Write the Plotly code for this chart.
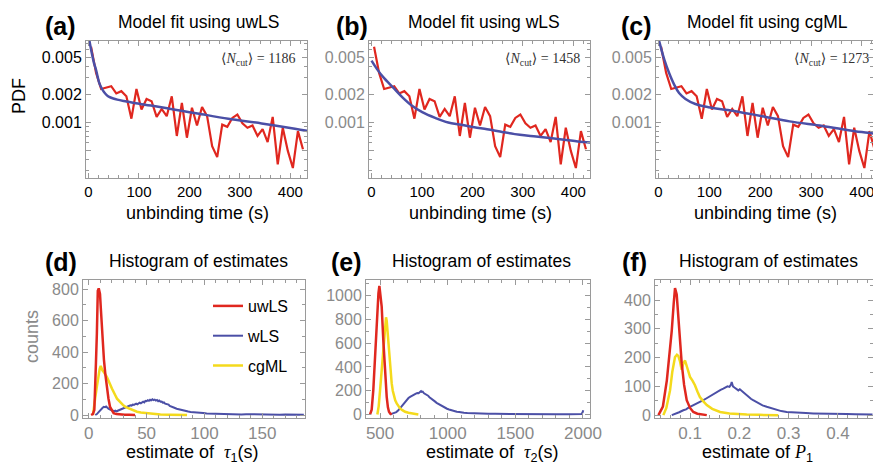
import plotly.graph_objects as go

W, H = 873, 465
RED = '#E0271F'
BLUE = '#4B4FA6'
YEL = '#F4DA1C'
AX = '#9a9a9a'
TXTGRAY = '#8a8a8a'
SANS = 'Liberation Sans, Arial, sans-serif'
SERIF = 'Liberation Serif, DejaVu Serif, serif'

# ---------------- data: top row (binned unbinding-time PDF) ----------------
t_bins = [5, 15, 25, 35, 45, 55, 65, 75, 85, 95, 105, 115, 125, 135, 145, 155, 165, 175,
          185, 195, 205, 215, 225, 235, 245, 255, 265, 275, 285, 295, 305, 315, 325, 335,
          345, 355, 365, 375, 385, 395, 405, 415, 425]
pdf_emp = [0.0065, 0.0034, 0.00228, 0.00234, 0.00244, 0.00204, 0.00216, 0.00190, 0.00109,
           0.00228, 0.00137, 0.00178, 0.00168, 0.00114, 0.00139, 0.00116, 0.00190, 0.00071,
           0.00161, 0.00068, 0.00143, 0.00092, 0.00146, 0.00116, 0.00055, 0.00042, 0.00094,
           0.00089, 0.00111, 0.00121, 0.00097, 0.00087, 0.00092, 0.00071, 0.00084, 0.00061,
           0.00114, 0.00035, 0.00087, 0.00049, 0.00032, 0.00080, 0.00051]

fit_uwls_t = [0, 1.4, 4, 7.9, 11, 14.7, 18, 21.2, 26, 31, 36, 41, 49, 57, 70, 90.5, 123.6,
              156, 189.5, 216, 277, 343, 409, 436]
fit_uwls_p = [0.0089, 0.0078, 0.0065, 0.0051, 0.0043, 0.0037, 0.0031, 0.00265, 0.00232,
              0.0021, 0.00196, 0.00187, 0.0018, 0.00175, 0.00169, 0.00161, 0.00151, 0.00141,
              0.00131, 0.00124, 0.00109, 0.00097, 0.00085, 0.00080]

fit_wls_t = [0, 10.2, 23.2, 42.5, 61.8, 81, 100.5, 126, 152, 178, 203.5, 229, 261, 294, 326,
             358, 390, 421, 436]
fit_wls_p = [0.0046, 0.00378, 0.00306, 0.00237, 0.00184, 0.00149, 0.00128, 0.00111, 0.00099,
             0.00094, 0.00088, 0.00084, 0.00078, 0.00073, 0.00070, 0.00067, 0.00064, 0.00061,
             0.00060]

fit_cgml_t = [0, 2, 11.5, 21, 30.8, 40.4, 53, 72.5, 98, 136.5, 175, 204, 258, 322.5, 386.5,
              412, 436]
fit_cgml_p = [0.0080, 0.0072, 0.00469, 0.00337, 0.00254, 0.00206, 0.00178, 0.00157, 0.00145,
              0.00135, 0.00124, 0.00116, 0.00102, 0.00091, 0.00080, 0.00077, 0.00073]

ncut = ['1186', '1458', '1273']
methods = ['uwLS', 'wLS', 'cgML']

# ---------------- data: bottom row (histograms of estimates) ----------------
# (d) tau1
d_uw_x = [2, 3.5, 4.8, 5.5, 6.2, 7, 7.8, 8.6, 9.7, 10.4, 11.1, 12, 13.1, 14.3, 15.5, 17, 18.4,
          20, 21.5, 24, 27, 31, 35, 40]
d_uw_y = [0, 6, 32, 150, 333, 520, 790, 805, 770, 680, 590, 470, 352, 260, 180, 105, 51, 28,
          12, 6, 3, 1, 1, 0]
d_cg_x = [3.6, 4.5, 5.6, 7.1, 8.5, 9.4, 10.3, 11, 11.8, 12.7, 13.6, 14.6, 15.8, 17, 18.6, 20,
          21.5, 23, 24.4, 26, 27.3, 29.5, 31.6, 34, 35.9, 38.5, 41.7, 45, 50.4, 55, 62, 70,
          78, 85]
d_cg_y = [0, 40, 110, 185, 265, 292, 312, 296, 284, 276, 262, 254, 240, 214, 192, 168, 140,
          124, 104, 90, 76, 64, 52, 45, 36, 28, 21, 16, 11, 7, 4, 2, 1, 0]
d_w_x = [5.6, 7, 8.5, 10, 11, 12, 13, 14, 15, 16, 17, 18, 19, 20, 21, 22, 23, 24, 25, 26, 27,
         28, 29, 30, 31, 32, 33, 34, 35, 36, 37, 38, 39, 40, 41, 42, 43, 44, 45, 46, 47, 48,
         49, 50, 51, 52, 53, 54, 55, 56, 57, 58, 59, 60, 61, 62, 63, 64, 65, 66, 67, 68, 69,
         70, 72, 74, 76, 78, 80, 82, 84, 86, 88, 90, 93, 96, 99, 102, 105, 108, 111, 114, 117,
         120, 124, 128, 132, 136, 140, 145, 150, 155, 160, 165, 170, 175, 180, 186]
d_w_y = [0, 6, 18, 32, 40, 46, 52, 50, 54, 44, 40, 36, 33, 28, 26, 24, 28, 23, 27, 30, 33,
         36, 40, 44, 46, 52, 55, 58, 56, 62, 60, 66, 64, 70, 72, 68, 76, 78, 74, 82, 85, 80,
         90, 88, 94, 90, 97, 93, 100, 95, 98, 92, 96, 88, 92, 85, 86, 78, 80, 72, 70, 64, 66,
         58, 54, 46, 40, 36, 30, 28, 24, 22, 19, 17, 15, 12, 12, 10, 9, 9, 7, 8, 6, 6, 5, 6,
         4, 5, 4, 3, 4, 3, 3, 2, 3, 2, 2, 2]

# (e) tau2
e_uw_x = [426, 438, 450, 463, 476, 488, 495, 503, 512, 524, 537, 549, 558, 566, 576, 586]
e_uw_y = [0, 40, 205, 486, 795, 1020, 1082, 1010, 907, 626, 346, 148, 60, 22, 6, 0]
e_cg_x = [480, 490, 500, 510, 520, 528, 535, 540, 544, 549, 554, 559, 564, 569, 574, 580, 586,
          594, 603, 612, 623, 635, 648, 665, 685, 710, 734, 760, 783]
e_cg_y = [0, 70, 205, 350, 486, 640, 738, 800, 818, 790, 711, 610, 542, 505, 401, 330, 261,
          200, 148, 118, 93, 70, 51, 36, 22, 14, 8, 4, 0]
e_w_x = [574, 590, 605, 620, 635, 650, 660, 672, 685, 700, 710, 722, 735, 745, 755, 765, 775,
         785, 795, 803, 808, 815, 825, 835, 845, 855, 865, 875, 885, 894, 905, 918, 930, 945,
         958, 968, 980, 995, 1010, 1025, 1040, 1055, 1067, 1085, 1100, 1120, 1145, 1170,
         1190, 1220, 1250, 1300, 1350, 1400, 1450, 1500, 1550, 1600, 1700, 1800, 1900, 1960,
         1990, 1998, 2002]
e_w_y = [0, 5, 12, 20, 35, 55, 72, 93, 105, 125, 138, 148, 158, 162, 170, 175, 180, 178,
         188, 196, 190, 192, 178, 172, 163, 158, 145, 138, 128, 120, 110, 98, 90, 78, 70, 64,
         58, 48, 42, 36, 30, 26, 22, 20, 16, 14, 12, 10, 8, 8, 6, 5, 5, 4, 3, 4, 3, 3, 2, 2,
         2, 3, 4, 20, 35]

# (f) P1
f_uw_x = [0.036, 0.045, 0.053, 0.058, 0.063, 0.067, 0.0696, 0.073, 0.0763, 0.080, 0.0832,
          0.088, 0.0933, 0.100, 0.1067, 0.115, 0.125, 0.134]
f_uw_y = [0, 30, 121, 200, 294, 390, 442, 420, 340, 260, 179, 105, 52, 25, 11, 5, 2, 0]
f_cg_x = [0.046, 0.052, 0.0595, 0.064, 0.0696, 0.0735, 0.0763, 0.080, 0.083, 0.0865, 0.0899,
          0.095, 0.100, 0.105, 0.110, 0.115, 0.120, 0.127, 0.134, 0.145, 0.161, 0.18, 0.2,
          0.215, 0.24, 0.26, 0.279]
f_cg_y = [0, 25, 86, 150, 202, 210, 206, 185, 158, 180, 190, 160, 133, 120, 104, 82, 63, 48,
          35, 22, 11, 6, 3, 2, 1, 1, 0]
f_w_x = [0.063, 0.07, 0.078, 0.0864, 0.092, 0.097, 0.102, 0.1067, 0.112, 0.117, 0.122, 0.127,
         0.132, 0.137, 0.142, 0.147, 0.152, 0.157, 0.162, 0.1675, 0.172, 0.176, 0.18, 0.183,
         0.1845, 0.187, 0.19, 0.194, 0.198, 0.201, 0.205, 0.208, 0.2115, 0.216, 0.22, 0.224,
         0.228, 0.234, 0.24, 0.247, 0.2555, 0.265, 0.275, 0.285, 0.296, 0.31, 0.32, 0.335,
         0.35, 0.365, 0.38, 0.4, 0.418, 0.435, 0.45, 0.47]
f_w_y = [0, 4, 10, 17, 20, 26, 30, 35, 40, 44, 48, 52, 57, 62, 68, 75, 80, 84, 88, 92, 96,
         100, 98, 106, 115, 100, 96, 92, 86, 90, 84, 78, 75, 68, 62, 56, 52, 46, 40, 34, 29,
         24, 18, 14, 11, 9, 8, 7, 6, 5, 5, 4, 4, 3, 3, 2]

fig = go.Figure()

def px(x):
    return x / W

def py(y):
    return 1 - y / H

# ---------------- top row traces ----------------
fits = [(fit_uwls_t, fit_uwls_p), (fit_wls_t, fit_wls_p), (fit_cgml_t, fit_cgml_p)]
for i, (ft, fp) in enumerate(fits):
    xa = 'x' if i == 0 else 'x%d' % (i + 1)
    ya = 'y' if i == 0 else 'y%d' % (i + 1)
    fig.add_trace(go.Scatter(x=t_bins, y=pdf_emp, mode='lines', line=dict(color=RED, width=2.2),
                             xaxis=xa, yaxis=ya, showlegend=False))
    fig.add_trace(go.Scatter(x=ft, y=fp, mode='lines', line=dict(color=BLUE, width=2.5, shape='spline'),
                             xaxis=xa, yaxis=ya, showlegend=False))

# ---------------- bottom row traces ----------------
hists = [
    (d_uw_x, d_uw_y, d_w_x, d_w_y, d_cg_x, d_cg_y),
    (e_uw_x, e_uw_y, e_w_x, e_w_y, e_cg_x, e_cg_y),
    (f_uw_x, f_uw_y, f_w_x, f_w_y, f_cg_x, f_cg_y),
]
for j, (ux, uy, wx, wy, cx, cy) in enumerate(hists):
    k = j + 4
    xa, ya = 'x%d' % k, 'y%d' % k
    leg = (j == 0)
    fig.add_trace(go.Scatter(x=wx, y=wy, mode='lines', line=dict(color=BLUE, width=2),
                             xaxis=xa, yaxis=ya, name='wLS', legendgroup='b', legendrank=2,
                             showlegend=leg))
    fig.add_trace(go.Scatter(x=cx, y=cy, mode='lines', line=dict(color=YEL, width=2.5),
                             xaxis=xa, yaxis=ya, name='cgML', legendgroup='c', legendrank=3,
                             showlegend=leg))
    fig.add_trace(go.Scatter(x=ux, y=uy, mode='lines', line=dict(color=RED, width=2.5),
                             xaxis=xa, yaxis=ya, name='uwLS', legendgroup='a', legendrank=1,
                             showlegend=leg))

def base_axis(color_lbl, size, **kw):
    d = dict(showline=True, linecolor=AX, linewidth=1, mirror='ticks', ticks='inside',
             ticklen=5, tickcolor=AX, tickwidth=1, showgrid=False, zeroline=False,
             automargin=False, ticklabeloverflow='allow',
             tickfont=dict(family=SANS, size=size, color=color_lbl), layer='above traces')
    d.update(kw)
    return d

def overlay_axis(**kw):
    d = dict(showline=False, ticks='inside', ticklen=5, tickcolor=AX, tickwidth=1,
             showgrid=False, zeroline=False, showticklabels=False, automargin=False,
             layer='above traces')
    d.update(kw)
    return d

top_dom_x = [(86, 307), (369, 590), (656, 873)]
top_rng_x = [[-5, 433], [-5, 433], [-5, 422]]
top_y = (41, 178)
bot_dom_x = [(83, 305), (366, 590), (655, 873)]
bot_y = (280, 418)

layout = dict()
logrange = [-3.602, -2.125]
ymin_vals = [0.0003, 0.0004, 0.0006, 0.0007, 0.0008, 0.0009, 0.003, 0.004, 0.006, 0.007]
ov = 7
for i in range(3):
    xn = 'xaxis' if i == 0 else 'xaxis%d' % (i + 1)
    yn = 'yaxis' if i == 0 else 'yaxis%d' % (i + 1)
    xa = 'x' if i == 0 else 'x%d' % (i + 1)
    ya = 'y' if i == 0 else 'y%d' % (i + 1)
    xdom = [px(top_dom_x[i][0]), px(top_dom_x[i][1])]
    ydom = [py(top_y[1]), py(top_y[0])]
    layout[xn] = base_axis('black', 15, domain=xdom, range=top_rng_x[i], dtick=100, anchor=ya,
                           minor=dict(ticks='inside', ticklen=3, tickcolor=AX, dtick=20))
    layout[yn] = base_axis('black' if i == 0 else TXTGRAY, 16, domain=ydom, type='log',
                           range=logrange, anchor=xa,
                           tickvals=[0.0005, 0.001, 0.002, 0.005],
                           ticktext=['', '0.001', '0.002', '0.005'],
                           minor=dict(ticks='inside', ticklen=3, tickcolor=AX, tickvals=ymin_vals))
    # overlay axes for mirrored minor ticks (top / right)
    layout['xaxis%d' % ov] = overlay_axis(overlaying=xa, side='top', anchor=ya, range=top_rng_x[i],
                                          dtick=100, domain=xdom,
                                          minor=dict(ticks='inside', ticklen=3, tickcolor=AX, dtick=20))
    ov += 1
    layout['yaxis%d' % ov] = overlay_axis(overlaying=ya, side='right', anchor=xa, type='log',
                                          range=logrange, domain=ydom,
                                          tickvals=[0.0005, 0.001, 0.002, 0.005],
                                          minor=dict(ticks='inside', ticklen=3, tickcolor=AX,
                                                     tickvals=ymin_vals))
    ov += 1

bot_rng_x = [[-5, 187], [396, 2052], [0.029, 0.471]]
bot_rng_y = [[-19, 858], [-30, 1132], [-10, 470]]
bot_dt_x = [50, 500, 0.1]
bot_mdt_x = [10, 100, 0.02]
bot_dt_y = [200, 200, 100]
bot_mdt_y = [100, 100, 50]
for j in range(3):
    k = j + 4
    xdom = [px(bot_dom_x[j][0]), px(bot_dom_x[j][1])]
    ydom = [py(bot_y[1]), py(bot_y[0])]
    layout['xaxis%d' % k] = base_axis(TXTGRAY, 17, domain=xdom, range=bot_rng_x[j],
                                       dtick=bot_dt_x[j], anchor='y%d' % k, tick0=0,
                                       minor=dict(ticks='inside', ticklen=3, tickcolor=AX,
                                                  dtick=bot_mdt_x[j]))
    layout['yaxis%d' % k] = base_axis(TXTGRAY, 16, domain=ydom, range=bot_rng_y[j],
                                       dtick=bot_dt_y[j], anchor='x%d' % k,
                                       minor=dict(ticks='inside', ticklen=3, tickcolor=AX,
                                                  dtick=bot_mdt_y[j]))
    layout['xaxis%d' % ov] = overlay_axis(overlaying='x%d' % k, side='top', anchor='y%d' % k,
                                          range=bot_rng_x[j], dtick=bot_dt_x[j], tick0=0,
                                          domain=xdom,
                                          minor=dict(ticks='inside', ticklen=3, tickcolor=AX,
                                                     dtick=bot_mdt_x[j]))
    ov += 1
    layout['yaxis%d' % ov] = overlay_axis(overlaying='y%d' % k, side='right', anchor='x%d' % k,
                                          range=bot_rng_y[j], dtick=bot_dt_y[j], domain=ydom,
                                          minor=dict(ticks='inside', ticklen=3, tickcolor=AX,
                                                     dtick=bot_mdt_y[j]))
    ov += 1

ann = []
def add_text(x, y, text, size, color='black', family=SANS, xanchor='center', yanchor='middle',
             angle=0):
    ann.append(dict(x=px(x), y=py(y), xref='paper', yref='paper', text=text, showarrow=False,
                    xanchor=xanchor, yanchor=yanchor, textangle=angle,
                    font=dict(size=size, color=color, family=family)))

letters_top = [(60, '(a)'), (352, '(b)'), (636, '(c)')]
titles_top_x = [198, 484, 767]
for i in range(3):
    add_text(letters_top[i][0], 26, '<b>' + letters_top[i][1] + '</b>', 25)
    add_text(titles_top_x[i], 22, 'Model fit using ' + methods[i], 17.5)
    add_text([197, 480, 765][i], 213, 'unbinding time (s)', 18)
ncut_x = [298, 582, 871]
for i in range(3):
    add_text(ncut_x[i], 59, '⟨<i>N</i><sub>cut</sub>⟩ = ' + ncut[i], 14, color='#333333',
             family=SERIF, xanchor='right')
add_text(19, 96, 'PDF', 18, angle=-90)

letters_bot = [(61, '(d)'), (346, '(e)'), (634, '(f)')]
titles_bot_x = [198, 481, 768]
for j in range(3):
    add_text(letters_bot[j][0], 262, '<b>' + letters_bot[j][1] + '</b>', 25)
    add_text(titles_bot_x[j], 261, 'Histogram of estimates', 17.5)
tau_span = '<span style="font-family:Liberation Serif, DejaVu Serif, serif"><i>%s</i></span>'
add_text(192, 440, 'estimate of  ' + tau_span % 'τ' + '<sub>1</sub>(s)', 18, yanchor='top')
add_text(492, 440, 'estimate of  ' + tau_span % 'τ' + '<sub>2</sub>(s)', 18, yanchor='top')
add_text(757, 440, 'estimate of ' + tau_span % 'P' + '<sub>1</sub>', 18, yanchor='top')
add_text(32, 337, 'counts', 18, color=TXTGRAY, angle=-90)

layout.update(
    width=W, height=H, margin=dict(l=0, r=0, t=0, b=0, autoexpand=False),
    paper_bgcolor='white', plot_bgcolor='white',
    annotations=ann,
    legend=dict(x=px(208), y=py(289), xanchor='left', yanchor='top', bgcolor='rgba(0,0,0,0)',
                font=dict(family=SANS, size=16, color='black'), tracegroupgap=6,
                traceorder='grouped', itemwidth=30),
    font=dict(family=SANS),
)
fig.update_layout(**layout)
fig.write_html('out.html')
